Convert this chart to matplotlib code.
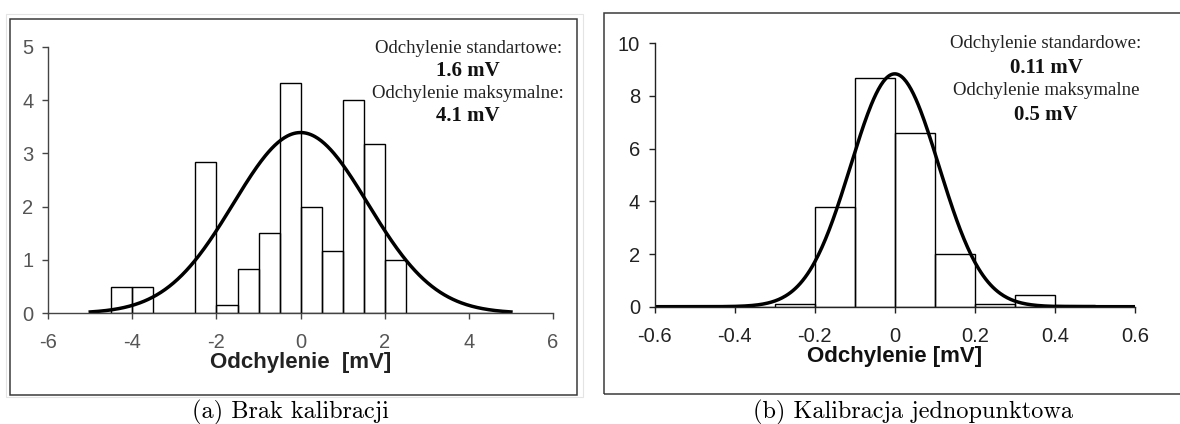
import numpy as np
import matplotlib
matplotlib.use("Agg")
import matplotlib.pyplot as plt
from matplotlib.patches import Rectangle

# histogram (a): no calibration, 0.5 mV bins
bins_a = [-5.0, -4.5, -4.0, -3.5, -3.0, -2.5, -2.0, -1.5, -1.0, -0.5,
          0.0, 0.5, 1.0, 1.5, 2.0, 2.5, 3.0, 3.5, 4.0, 4.5]
counts_a = [0, 0.5, 0.5, 0, 0, 2.83, 0.15, 0.83, 1.5, 4.32,
            2.0, 1.16, 4.0, 3.17, 1.0, 0, 0, 0, 0, 0]
width_a = 0.5
sigma_a = 1.6       # stated standard deviation [mV]
peak_a = 3.39
max_a = 4.1

# histogram (b): one-point calibration, 0.1 mV bins
bins_b = [-0.6, -0.5, -0.4, -0.3, -0.2, -0.1, 0.0, 0.1, 0.2, 0.3, 0.4, 0.5]
counts_b = [0, 0, 0, 0.1, 3.8, 8.7, 6.58, 2.0, 0.1, 0.46, 0.08, 0]
width_b = 0.1
sigma_b = 0.11
peak_b = 8.84
max_b = 0.5

xticks_a = [-6, -4, -2, 0, 2, 4, 6]
yticks_a = [0, 1, 2, 3, 4, 5]
xticks_b = [-0.6, -0.4, -0.2, 0, 0.2, 0.4, 0.6]
xticklabels_b = ["-0.6", "-0.4", "-0.2", "0", "0.2", "0.4", "0.6"]
yticks_b = [0, 2, 4, 6, 8, 10]

plt.rcParams["axes.unicode_minus"] = False

W, H = 1180, 424
fig = plt.figure(figsize=(W / 100, H / 100), dpi=100)


def px_axes(x0, y0, x1, y1):
    """Axes placed by pixel corners (top-left origin)."""
    return fig.add_axes([x0 / W, 1 - y1 / H, (x1 - x0) / W, (y1 - y0) / H])


def px_box(x0, y0, x1, y1, color, lw):
    fig.patches.append(Rectangle((x0 / W, 1 - y1 / H), (x1 - x0) / W, (y1 - y0) / H,
                                 transform=fig.transFigure, fill=False,
                                 edgecolor=color, linewidth=lw))


def style_axes(ax, tick_color, spine_color):
    for s in ("top", "right"):
        ax.spines[s].set_visible(False)
    for s in ("left", "bottom"):
        ax.spines[s].set_color(spine_color)
        ax.spines[s].set_linewidth(1.0)
    ax.tick_params(direction="out", length=4.5, width=1.0, color=spine_color,
                   labelcolor=tick_color, labelsize=14.5)
    ax.tick_params(axis="y", pad=6)
    ax.tick_params(axis="x", pad=10)
    for lab in ax.get_xticklabels() + ax.get_yticklabels():
        lab.set_fontfamily("Liberation Sans")


def note(ax, xc, ys, lines):
    """Stacked centred annotation: regular header / bold value pairs."""
    for y, (txt, bold) in zip(ys, lines):
        ax.text(xc, y, txt, transform=ax.transAxes, ha="center", va="center",
                fontsize=15 if bold else 13.5, fontfamily="Liberation Serif",
                fontweight="bold" if bold else "normal",
                color="#111111" if bold else "#222222")


# frames around both panels
px_box(5.5, 14, 583, 397, "#e4e4e4", 0.8)
px_box(10, 19.3, 577, 395, "#3a3a3a", 1.1)
px_box(604.5, 13.3, 1190, 394.3, "#3a3a3a", 1.1)

# panel (a)
ax1 = px_axes(48.2, 46.7, 553, 313.3)
ax1.bar(bins_a, counts_a, width=width_a, align="edge", fill=False,
        edgecolor="black", linewidth=1.0)
xa = np.linspace(-5, 5, 400)
ax1.plot(xa, peak_a * np.exp(-xa ** 2 / (2 * sigma_a ** 2)), color="black", lw=2.5)
ax1.set_xlim(-6, 6)
ax1.set_ylim(0, 5)
ax1.set_xticks(xticks_a)
ax1.set_yticks(yticks_a)
style_axes(ax1, "#555555", "#444444")
ax1.set_xlabel("Odchylenie  [mV]", fontsize=16, fontweight="bold",
               fontfamily="Liberation Sans", color="#222222", labelpad=0)
note(ax1, 0.832, [0.995, 0.908, 0.823, 0.74],
     [("Odchylenie standartowe:", False), (f"{sigma_a} mV", True),
      ("Odchylenie maksymalne:", False), (f"{max_a} mV", True)])

# panel (b)
ax2 = px_axes(654.5, 43.3, 1135, 306.7)
ax2.bar(bins_b, counts_b, width=width_b, align="edge", fill=False,
        edgecolor="black", linewidth=1.0)
xb = np.linspace(-0.6, 0.6, 400)
ax2.plot(xb, peak_b * np.exp(-xb ** 2 / (2 * sigma_b ** 2)), color="black", lw=2.5)
ax2.set_xlim(-0.6, 0.6)
ax2.set_ylim(0, 10)
ax2.set_xticks(xticks_b)
ax2.set_xticklabels(xticklabels_b)
ax2.set_yticks(yticks_b)
style_axes(ax2, "#222222", "#222222")
ax2.set_xlabel("Odchylenie [mV]", fontsize=16, fontweight="bold",
               fontfamily="Liberation Sans", color="#111111", labelpad=0)
note(ax2, 0.815, [1.0, 0.908, 0.82, 0.727],
     [("Odchylenie standardowe:", False), (f"{sigma_b} mV", True),
      ("Odchylenie maksymalne", False), (f"{max_b} mV", True)])

# captions
fig.text(290 / W, 1 - 412 / H, "(a) Brak kalibracji", ha="center", va="center",
         fontsize=17.5, fontfamily="cmr10")
fig.text(913 / W, 1 - 412 / H, "(b) Kalibracja jednopunktowa", ha="center", va="center",
         fontsize=17.5, fontfamily="cmr10")

fig.savefig("out.png", dpi=100, facecolor="white")
